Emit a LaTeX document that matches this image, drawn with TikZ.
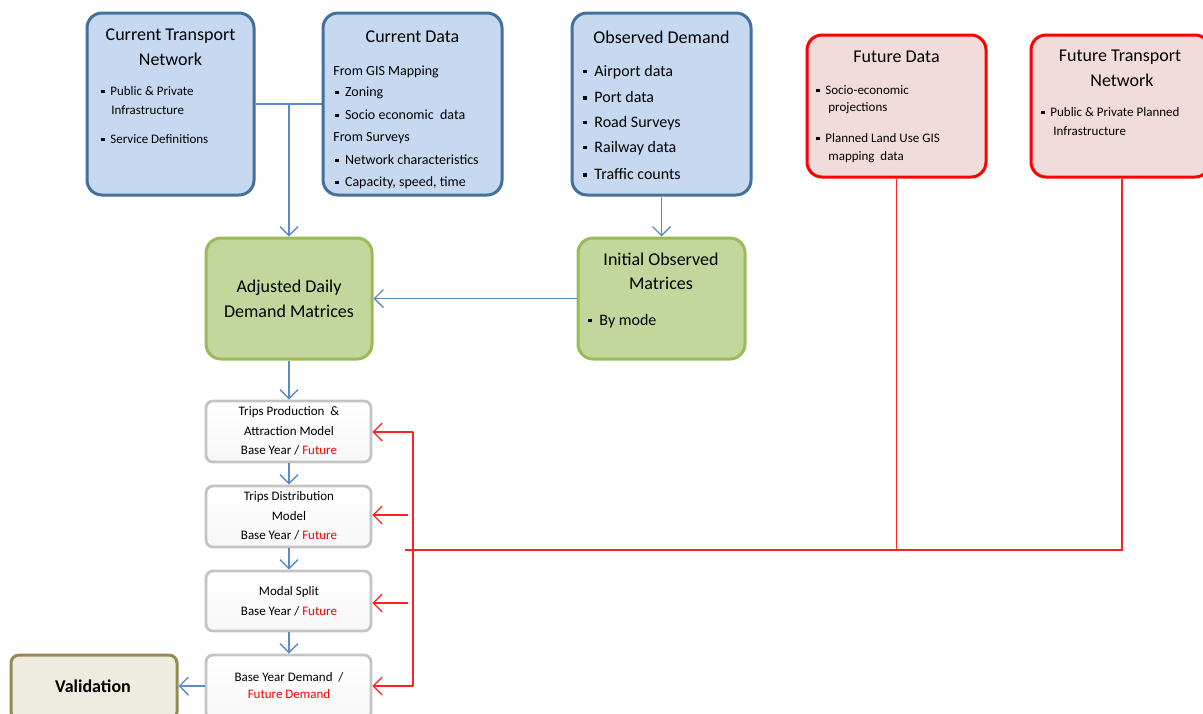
\documentclass[tikz,border=0pt]{standalone}
\usepackage{fontspec}
\setmainfont{Carlito}
\usetikzlibrary{arrows.meta}
\definecolor{bfill}{HTML}{C6D9F1}
\definecolor{bdraw}{HTML}{41719C}
\definecolor{gfill}{HTML}{C3D69B}
\definecolor{gdraw}{HTML}{9BBB59}
\definecolor{rfill}{HTML}{F2DCDB}
\definecolor{rdraw}{HTML}{FF0000}
\definecolor{vfill}{HTML}{EEECE1}
\definecolor{vdraw}{HTML}{948A54}
\definecolor{gydraw}{HTML}{C4C4C4}
\definecolor{bline}{HTML}{5B8BCB}
\definecolor{rline}{HTML}{FF2020}
\newcommand{\bul}{\raisebox{0.18em}{\rule{0.24em}{0.24em}}\hspace{0.45em}}
\tikzset{
  bigbox/.style={draw, line width=1.5pt, rounded corners=7.5pt, inner sep=0pt},
  bluebox/.style={bigbox, draw=bdraw, fill=bfill},
  greenbox/.style={bigbox, draw=gdraw, fill=gfill},
  redbox/.style={bigbox, draw=rdraw, fill=rfill},
  valbox/.style={bigbox, draw=vdraw, fill=vfill, rounded corners=4pt},
  greybox/.style={draw=gydraw, line width=1.4pt, rounded corners=3.5pt, inner sep=0pt, top color=white, bottom color=gray!6},
  title/.style={inner sep=0pt, font=\fontsize{9pt}{10pt}\selectfont, align=center},
  txt/.style={inner sep=0pt, anchor=west, font=\fontsize{6.5pt}{8pt}\selectfont},
  txtm/.style={inner sep=0pt, anchor=west, font=\fontsize{7pt}{8pt}\selectfont},
  txtl/.style={inner sep=0pt, anchor=west, font=\fontsize{8pt}{9pt}\selectfont},
  gtxt/.style={inner sep=0pt, font=\fontsize{6.5pt}{8pt}\selectfont},
  blue arrow/.style={draw=bline, line width=0.7pt, -{Straight Barb[length=4.5pt,width=9pt]}},
  blue line/.style={draw=bline, line width=0.7pt},
  red arrow/.style={draw=rline, line width=0.6pt, -{Straight Barb[length=4.5pt,width=9pt]}},
  red line/.style={draw=rline, line width=0.6pt},
}
\begin{document}
\begin{tikzpicture}[x=0.5pt,y=-0.5pt]
\clip (0,0) rectangle (1203,713);
% boxes
\node[bluebox, minimum width=83.5pt, minimum height=91pt] (ctn) at (170.5,104) {};
\node[bluebox, minimum width=89.5pt, minimum height=91pt] (cd) at (412.5,104) {};
\node[bluebox, minimum width=89.5pt, minimum height=91pt] (od) at (661.5,104) {};
\node[redbox, minimum width=89.5pt, minimum height=71pt] (fd) at (896.5,106) {};
\node[redbox, minimum width=89.5pt, minimum height=71pt] (ftn) at (1120.5,106) {};
\node[greenbox, minimum width=83pt, minimum height=60.5pt] (adj) at (289,298.5) {};
\node[greenbox, minimum width=83.5pt, minimum height=60.5pt] (iom) at (661.5,298.5) {};
\node[greybox, minimum width=82.5pt, minimum height=30.5pt] (tp) at (288.5,431.5) {};
\node[greybox, minimum width=82.5pt, minimum height=30.5pt] (td) at (288.5,516.5) {};
\node[greybox, minimum width=82.5pt, minimum height=30pt] (ms) at (288.5,601) {};
\node[greybox, minimum width=82.5pt, minimum height=32.5pt] (by) at (288.5,687.5) {};
\node[valbox, minimum width=83pt, minimum height=32.5pt] (val) at (94,687.5) {};

% texts: Current Transport Network
\node[title] (t1a) at (170.5,36) {Current Transport};
\node[title] (t1b) at (170.5,59) {Network};
\node[txt] (t1c) at (101,91) {\bul Public \& Private};
\node[txt] (t1d) at (111,110) {Infrastructure};
\node[txt] (t1e) at (101,139) {\bul Service Definitions};
% Current Data
\node[title] (t2a) at (412.5,37) {Current Data};
\node[txtm] (t2b) at (333,72) {From GIS Mapping};
\node[txtm] (t2c) at (335,93) {\bul Zoning};
\node[txtm] (t2d) at (335,115) {\bul Socio economic\ \ data};
\node[txtm] (t2e) at (333,138) {From Surveys};
\node[txtm] (t2f) at (335,160) {\bul Network characteristics};
\node[txtm] (t2g) at (335,183) {\bul Capacity, speed, time};
% Observed Demand
\node[title] (t3a) at (661.5,37) {Observed Demand};
\node[txtl] (t3b) at (583,72) {\bul Airport data};
\node[txtl] (t3c) at (583,97) {\bul Port data};
\node[txtl] (t3d) at (583,123) {\bul Road Surveys};
\node[txtl] (t3e) at (583,148) {\bul Railway data};
\node[txtl] (t3f) at (583,174) {\bul Traffic counts};
% Future Data
\node[title] (t4a) at (896.5,57) {Future Data};
\node[txt] (t4b) at (816,90) {\bul Socio-economic};
\node[txt] (t4c) at (828,108) {projections};
\node[txt] (t4d) at (816,138) {\bul Planned Land Use GIS};
\node[txt] (t4e) at (828,157) {mapping\ \ data};
% Future Transport Network
\node[title] (t5a) at (1120,57) {Future Transport};
\node[title] (t5b) at (1122,80) {Network};
\node[txt] (t5c) at (1041,112) {\bul Public \& Private Planned};
\node[txt] (t5d) at (1053,131) {Infrastructure};
% Adjusted
\node[title] (t6a) at (289,288) {Adjusted Daily};
\node[title] (t6b) at (289,311) {Demand Matrices};
% Initial Observed
\node[title] (t7a) at (661,259) {Initial Observed};
\node[title] (t7b) at (661,283) {Matrices};
\node[inner sep=0pt, anchor=west, font=\fontsize{8pt}{9pt}\selectfont] (t7c) at (588,321) {\bul By mode};
% grey boxes
\node[gtxt] (t8a) at (289,412) {Trips Production\ \ \&};
\node[gtxt] (t8b) at (289,431) {Attraction\ Model};
\node[gtxt] (t8c) at (289,450) {Base Year / \textcolor{red}{Future}};
\node[gtxt] (t9a) at (289,497) {Trips Distribution};
\node[gtxt] (t9b) at (289,516) {Model};
\node[gtxt] (t9c) at (289,535) {Base Year / \textcolor{red}{Future}};
\node[gtxt] (t10a) at (289,592) {Modal Split};
\node[gtxt] (t10b) at (289,611) {Base Year / \textcolor{red}{Future}};
\node[gtxt] (t11a) at (289,677) {Base Year Demand\ \ /};
\node[gtxt] (t11b) at (289,694) {\textcolor{red}{Future Demand}};
\node[inner sep=0pt, font=\fontsize{9pt}{10pt}\selectfont\bfseries] (t12) at (93,686) {Validation};

% blue connectors
\coordinate (jB) at (289,104);
\draw[blue line] (ctn.east) -- (cd.west);
\draw[blue arrow] (jB) -- (adj.north);
\draw[blue arrow] (od.south) -- (iom.north);
\draw[blue arrow] (iom.west) -- (adj.east);
\draw[blue arrow] (adj.south) -- (tp.north -| adj.south);
\draw[blue arrow] (tp.south -| adj.south) -- (td.north -| adj.south);
\draw[blue arrow] (td.south -| adj.south) -- (ms.north -| adj.south);
\draw[blue arrow] (ms.south -| adj.south) -- (by.north -| adj.south);
\draw[blue arrow] (by.west |- 0,686) -- (val.east |- 0,686);

% red connectors
\coordinate (jF) at (896.5,550);
\coordinate (jT) at (1122,550);
\coordinate (jL) at (405,550);
\coordinate (vTop) at (413,432);
\coordinate (vBot) at (413,686);
\coordinate (m1) at (408,515);
\coordinate (m2) at (408,603);
\draw[red line] (fd.south) -- (jF);
\draw[red line] (ftn.south -| jT) -- (jT) -- (jL);
\draw[red line] (vTop) -- (vBot);
\draw[red arrow] (vTop) -- (tp.east |- vTop);
\draw[red arrow] (m1) -- (td.east |- m1);
\draw[red arrow] (m2) -- (ms.east |- m2);
\draw[red arrow] (vBot) -- (by.east |- vBot);
\end{tikzpicture}
\end{document}
